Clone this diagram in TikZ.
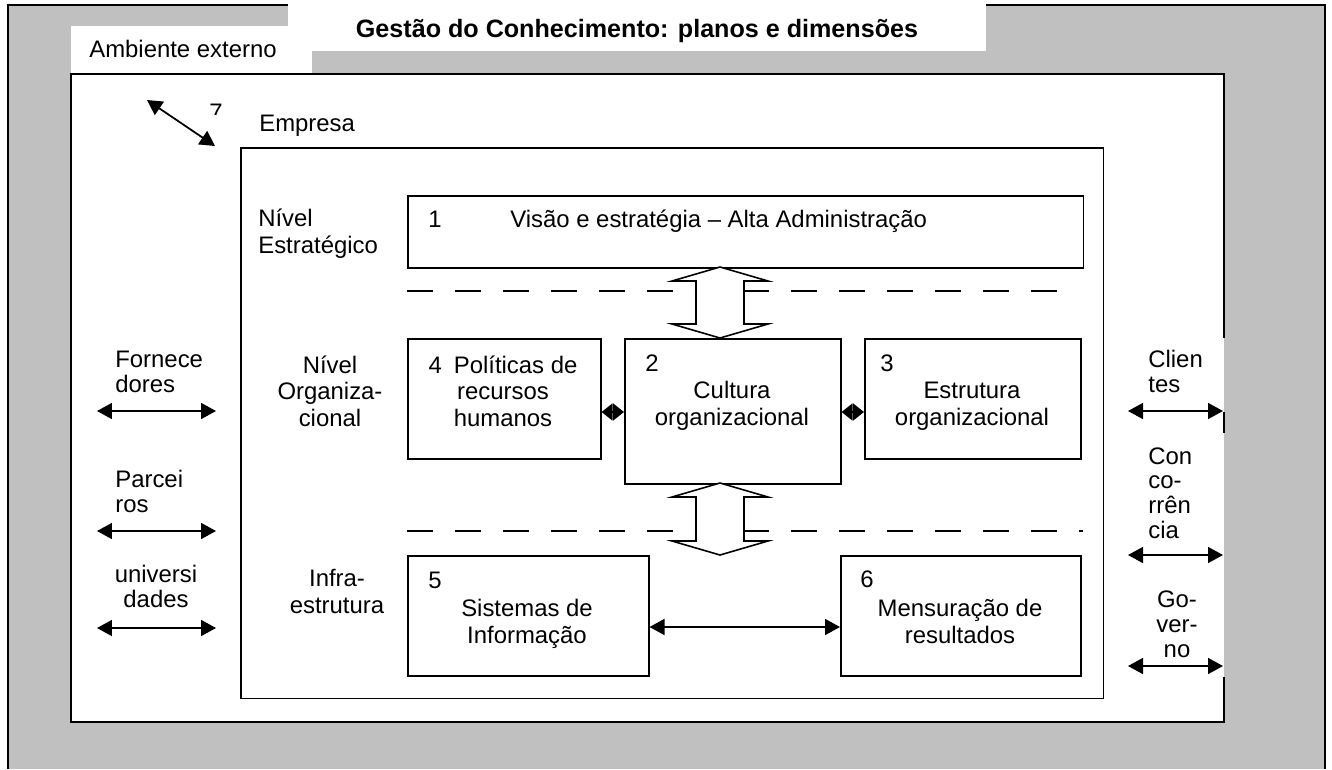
\documentclass[tikz,border=0pt]{standalone}
\usepackage{fontspec}
\setmainfont{Liberation Sans}
\usetikzlibrary{arrows.meta}
\definecolor{framegray}{RGB}{192,192,192}

\begin{document}
\begin{tikzpicture}[x=0.02cm, y=-0.02cm, font=\fontsize{13.6}{15}\selectfont]
		% Define styles for boxes, texts and arrows
		\tikzset{box/.style={draw, line width=0.9pt, fill=white, anchor=north west, inner sep=0pt},
			txt/.style={inner sep=0pt, anchor=base west, align=left},
			ctxt/.style={inner sep=0pt, anchor=base, align=center},
			side/.style={font=\fontsize{13.6}{14}\selectfont},
			frame/.style={line width=0.9pt},
			levelline/.style={line width=0.9pt, dash pattern=on 0.52cm off 0.44cm},
			bigarrow/.style={line width=0.9pt, fill=white},
			extarrow/.style={line width=1pt, {Triangle[length=0.3cm,width=0.32cm]}-{Triangle[length=0.3cm,width=0.32cm]}},
			smallarrow/.style={line width=1pt, {Triangle[length=0.22cm,width=0.34cm]}-{Triangle[length=0.22cm,width=0.34cm]}}}
		\useasboundingbox (0,0) rectangle (1332,769);
		
		% Draw the gray outer frame
		\fill[framegray] (8,5) rectangle (1325,769);
		\draw[frame] (8,769) -- (8,5) -- (1325,5) -- (1325,769);
		\fill[white] (288,0) rectangle (986,51);
		\fill[white] (71,26) rectangle (312,74);
		
		% Draw the external environment (right side is open at the labels)
		\fill[white] (71,74) rectangle (1224,722);
		\draw[frame] (1224,338) -- (1224,74) -- (71,74) -- (71,722) -- (1224,722) -- (1224,677);
		\draw[frame] (1224,412) -- (1224,433);
		
		% Title and environment label
		\node[ctxt, font=\fontsize{14.3}{15}\selectfont\bfseries] (titulo) at (637,37) {Gestão do Conhecimento: planos e dimensões};
		\node[txt] (ambiente) at (89,57) {Ambiente externo};
		
		% Draw the company box
		\node[box, minimum width=17.26cm, minimum height=11.02cm] (empresa) at (240,147) {};
		\node[txt] (emptxt) at (259,131) {Empresa};
		\coordinate (d1) at (147,100);
		\coordinate (d2) at (215,146);
		\draw[extarrow] (d1) -- (d2);
		\begin{scope}
			\clip (200,98) rectangle (235,114);
			\node[txt] (sete) at (209,120) {7};
		\end{scope}
		
		% Draw the dashed level lines
		\draw[levelline] (407,291) -- (1060,291);
		\draw[levelline] (407,531) -- (1083,531);
		
		% Level labels (positions are the baselines of the last lines)
		\node[txt] (nest) at (258,253) {Nível\\Estratégico};
		\node[ctxt] (norg) at (330,426) {Nível\\Organiza-\\cional};
		\node[ctxt] (ninf) at (337,613) {Infra-\\estrutura};
		
		% Draw the boxes of the three levels
		\node[box, minimum width=13.52cm, minimum height=1.44cm] (visao) at (407,195) {};
		\node[box, minimum width=3.86cm, minimum height=2.4cm] (politicas) at (407,338) {};
		\node[box, minimum width=4.32cm, minimum height=2.9cm] (cultura) at (624,338) {};
		\node[box, minimum width=4.32cm, minimum height=2.4cm] (estrutura) at (864,338) {};
		\node[box, minimum width=4.82cm, minimum height=2.4cm] (sistemas) at (407,555) {};
		\node[box, minimum width=4.8cm, minimum height=2.4cm] (mensuracao) at (840,555) {};
		
		% Texts of the boxes
		\node[txt] (n1) at (428,227) {1};
		\node[txt] (t1) at (510,227) {Visão e estratégia – Alta Administração};
		\node[ctxt] (t4) at (503,426) {4\hspace{0.5em}Políticas de\\recursos\\humanos};
		\node[txt] (n2) at (645,371) {2};
		\node[ctxt] (t2) at (732,425) {Cultura\\organizacional};
		\node[txt] (n3) at (880,371) {3};
		\node[ctxt] (t3) at (972,425) {Estrutura\\organizacional};
		\node[txt] (n5) at (428,588) {5};
		\node[ctxt] (t5) at (527,643) {Sistemas de\\Informação};
		\node[txt] (n6) at (860,587) {6};
		\node[ctxt] (t6) at (960,643) {Mensuração de\\resultados};
		
		% Draw the block arrows between the levels
		\foreach \ytop/\ybot in {267/338, 483/555}
			\draw[bigarrow] (720,\ytop) -- (768,\ytop+14) -- (744,\ytop+14) -- (744,\ybot-14) -- (768,\ybot-14)
				-- (720,\ybot) -- (672,\ybot-14) -- (696,\ybot-14) -- (696,\ytop+14) -- (672,\ytop+14) -- cycle;
		
		% Draw the arrows between the boxes
		\draw[smallarrow] (politicas.east |- 0,412) -- (cultura.west |- 0,412);
		\draw[smallarrow] (cultura.east |- 0,412) -- (estrutura.west |- 0,412);
		\draw[extarrow] (sistemas.east |- 0,627) -- (mensuracao.west |- 0,627);
		
		% External actors on the left
		\node[txt, side] (fornece) at (115,392) {Fornece\\dores};
		\node[txt, side] (parceiros) at (115,512) {Parcei\\ros};
		\node[ctxt, side] (univ) at (156,607) {universi\\dades};
		\foreach \y in {411, 531, 628}
			\draw[extarrow] (97,\y) -- (216,\y);
		
		% External actors on the right
		\node[txt, side] (clientes) at (1148,392) {Clien\\tes};
		\node[txt, side] (concorr) at (1148,538) {Con\\co-\\rrên\\cia};
		\node[ctxt, side] (governo) at (1177,657) {Go-\\ver-\\no};
		\foreach \y in {411, 555, 666}
			\draw[extarrow] (1128,\y) -- (1223,\y);
	\end{tikzpicture}
\end{document}
